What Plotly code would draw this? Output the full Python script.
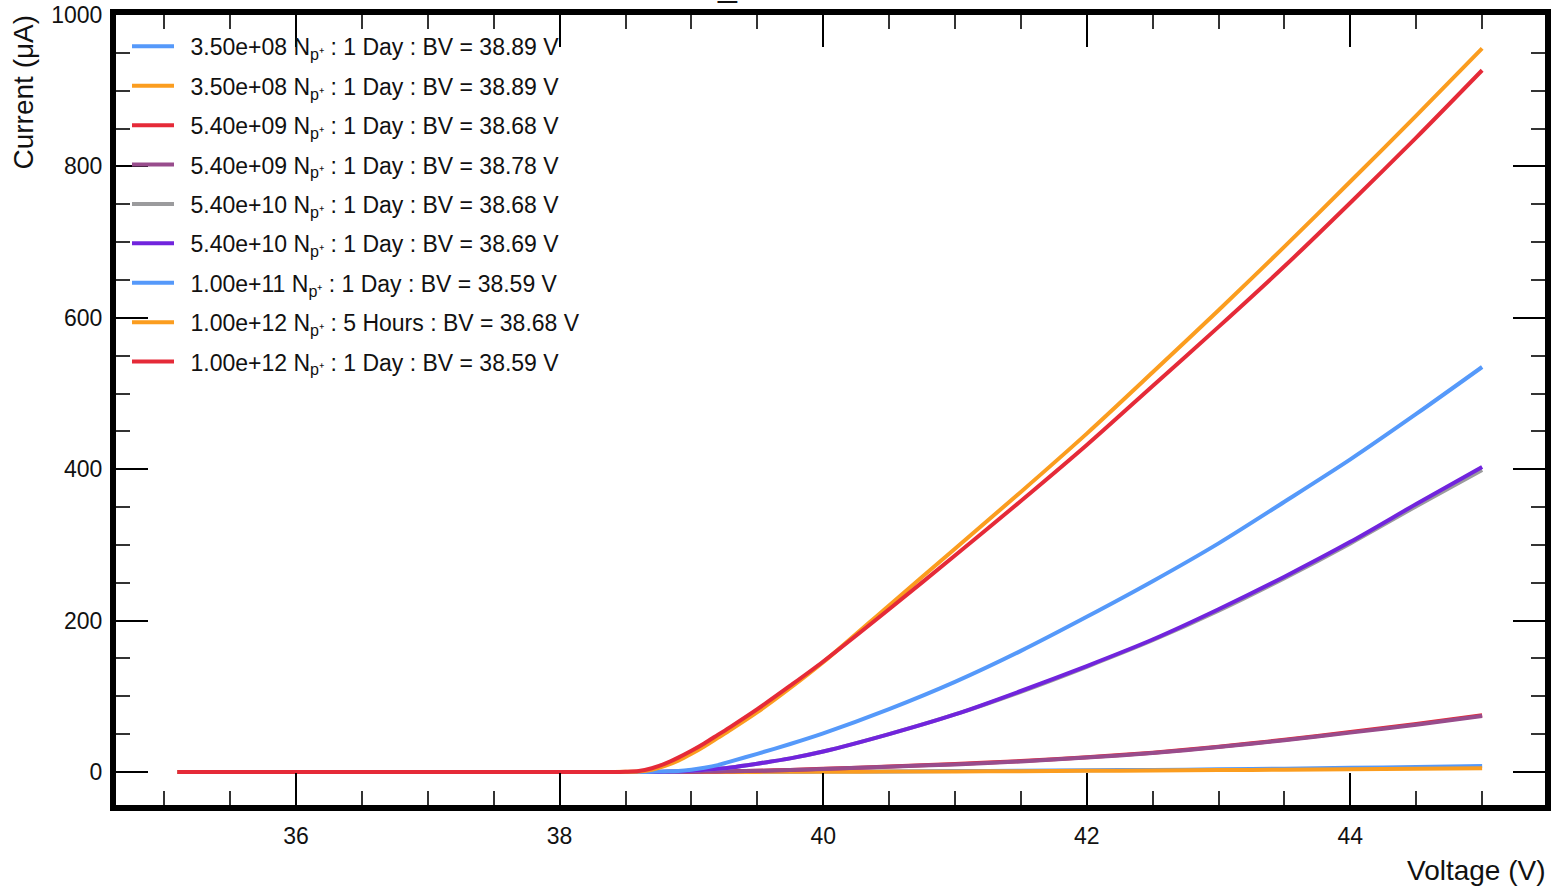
import plotly.graph_objects as go

# Bias voltage grid (V) shared by all measurements
voltage = [35.1, 36.0, 37.0, 38.0, 38.4, 38.5, 38.6, 38.7, 38.8, 38.9, 39.0, 39.1, 39.2, 39.3,
           39.5, 39.75, 40.0, 40.5, 41.0, 41.5, 42.0, 42.5, 43.0, 43.5, 44.0, 44.5, 45.0]

# Current (uA) for each fluence / annealing time
i_350e8_a = [0, 0, 0, 0, 0, 0, 0, 0, 0, 0, 0.05, 0.08, 0.1, 0.15, 0.25, 0.35, 0.5, 0.8, 1.2, 1.7, 2.2, 2.8, 3.5, 4.4, 5.5, 6.7, 8.0]
i_350e8_b = [0, 0, 0, 0, 0, 0, 0, 0, 0, 0, 0.03, 0.05, 0.07, 0.1, 0.15, 0.2, 0.3, 0.5, 0.8, 1.1, 1.5, 2.0, 2.5, 3.1, 3.7, 4.3, 5.0]
i_540e9_a = [0, 0, 0, 0, 0, 0, 0, 0, 0.05, 0.15, 0.3, 0.5, 0.7, 1.0, 1.6, 2.8, 4.2, 7.2, 10.5, 14.5, 19.5, 25.5, 33.5, 42.5, 53, 63.5, 75]
i_540e9_b = [0, 0, 0, 0, 0, 0, 0, 0, 0, 0.1, 0.3, 0.5, 0.7, 1.0, 1.5, 2.7, 4.0, 7.0, 10.0, 14.0, 19.0, 25.0, 33.0, 42.0, 52.0, 62.5, 74.0]
i_540e10_a = [0, 0, 0, 0, 0, 0, 0, 0, 0.3, 0.8, 1.5, 2.8, 4.2, 6.0, 11.0, 18.0, 27.0, 50.0, 76.0, 106.0, 139.0, 174.0, 213.0, 256.0, 302.0, 351.0, 399.0]
i_540e10_b = [0, 0, 0, 0, 0, 0, 0, 0, 0.3, 0.8, 1.5, 2.8, 4.2, 6.0, 11.0, 18.0, 27.0, 50.0, 76.0, 107.0, 140.0, 175.0, 215.0, 258.0, 304.0, 354.0, 403.0]
i_100e11 = [0, 0, 0, 0, 0, 0, 0, 0.3, 0.8, 1.4, 3.0, 5.5, 9.0, 14.0, 24.0, 37.0, 51.0, 83.0, 119.0, 160.0, 205.0, 252.0, 302.0, 357.0, 413.0, 473.0, 535.0]
i_100e12_5h = [0, 0, 0, 0, 0, 0.2, 0.8, 3.0, 8.0, 15.0, 24.0, 34.0, 45.0, 56.0, 79.0, 111.0, 145.0, 220.0, 295.0, 370.0, 447.0, 528.0, 610.0, 694.0, 780.0, 867.0, 956.0]
i_100e12_1d = [0, 0, 0, 0, 0, 0.3, 1.2, 5.0, 11.0, 19.0, 28.0, 38.0, 49.0, 60.0, 83.0, 114.0, 146.0, 215.0, 286.0, 358.0, 432.0, 510.0, 588.0, 668.0, 752.0, 838.0, 927.0]

NP = "N<sub>p\u207a</sub>"
labels = [
    f"3.50e+08 {NP} : 1 Day : BV = 38.89 V",
    f"3.50e+08 {NP} : 1 Day : BV = 38.89 V",
    f"5.40e+09 {NP} : 1 Day : BV = 38.68 V",
    f"5.40e+09 {NP} : 1 Day : BV = 38.78 V",
    f"5.40e+10 {NP} : 1 Day : BV = 38.68 V",
    f"5.40e+10 {NP} : 1 Day : BV = 38.69 V",
    f"1.00e+11 {NP} : 1 Day : BV = 38.59 V",
    f"1.00e+12 {NP} : 5 Hours : BV = 38.68 V",
    f"1.00e+12 {NP} : 1 Day : BV = 38.59 V",
]
currents = [i_350e8_a, i_350e8_b, i_540e9_a, i_540e9_b, i_540e10_a, i_540e10_b,
            i_100e11, i_100e12_5h, i_100e12_1d]
palette = ["#5599fa", "#fb9d1f", "#e52a38", "#984c8c", "#9b9b9d", "#7124dd"]

fig = go.Figure()
for k, (lab, cur) in enumerate(zip(labels, currents)):
    fig.add_trace(go.Scatter(
        x=voltage, y=cur, mode="lines", name="\u2002" + lab,
        legendgroup=f"g{k}",
        line=dict(color=palette[k % len(palette)], width=4, shape="spline", smoothing=0.8),
    ))

FONT = "Liberation Sans, Arial, Helvetica, sans-serif"
axis_common = dict(
    showline=True, linewidth=6, linecolor="black", mirror="allticks",
    ticks="inside", ticklen=32, tickwidth=2, tickcolor="black",
    showgrid=False, zeroline=False, automargin=False,
    tickfont=dict(family=FONT, size=23, color="#111"),
)

fig.update_layout(
    width=1562, height=889,
    margin=dict(l=116, r=17, t=15, b=84),
    paper_bgcolor="white", plot_bgcolor="white",
    font=dict(family=FONT, color="#111"),
    showlegend=True,
    legend=dict(
        x=0.0077, y=0.9875, xanchor="left", yanchor="top",
        bgcolor="rgba(0,0,0,0)", borderwidth=0,
        font=dict(family=FONT, size=23, color="#111"),
        tracegroupgap=6.5, itemwidth=42,
    ),
    xaxis=dict(
        range=[34.634, 45.477], tickvals=[36, 38, 40, 42, 44], ticklabelstandoff=5,
        minor=dict(ticks="inside", ticklen=14, tickwidth=1.5, tickcolor="#333", dtick=0.5, tick0=36, showgrid=False),
        **axis_common,
    ),
    yaxis=dict(
        range=[-43.6, 1000], tickvals=[0, 200, 400, 600, 800, 1000], ticklabelstandoff=3,
        minor=dict(ticks="inside", ticklen=14, tickwidth=1.5, tickcolor="#333", dtick=50, tick0=0, showgrid=False),
        **axis_common,
    ),
    annotations=[
        dict(text="Current (\u03bcA)", textangle=-90, xref="paper", yref="paper",
             x=0, y=1, xanchor="center", yanchor="top", xshift=-93, yshift=2,
             showarrow=False, font=dict(family=FONT, size=28, color="#111")),
        dict(text="Voltage (V)", xref="paper", yref="paper",
             x=1, y=0, xanchor="right", yanchor="middle", xshift=3, yshift=-65,
             showarrow=False, font=dict(family=FONT, size=28, color="#111")),
        dict(text="_", xref="paper", yref="paper",
             x=0.4276, y=1, xanchor="center", yanchor="bottom", yshift=10,
             showarrow=False, font=dict(family=FONT, size=34, color="#111")),
    ],
)

fig.write_html("out.html")
